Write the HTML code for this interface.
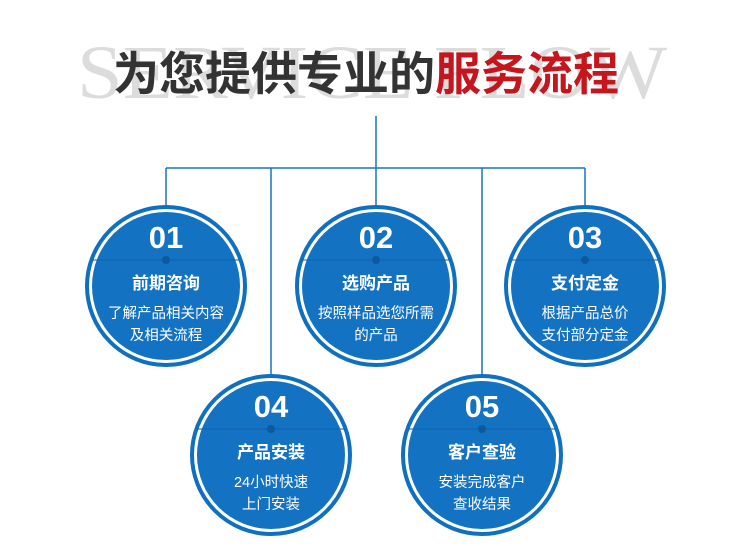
<!DOCTYPE html>
<html><head><meta charset="utf-8"><style>
body{margin:0;background:#fff;}
</style></head><body>
<svg width="750" height="546" viewBox="0 0 750 546" xmlns="http://www.w3.org/2000/svg" style="display:block">
<text x="372" y="98" text-anchor="middle" font-family="Liberation Serif, serif" font-size="76" fill="#dcdcdc" textLength="590" lengthAdjust="spacingAndGlyphs">SERVICE FLOW</text>
<text x="366" y="90" text-anchor="middle" font-family="Liberation Sans, Noto Sans CJK SC, sans-serif" font-weight="bold" font-size="46" fill="#333"><tspan>为您提供专业的</tspan><tspan fill="#c4161c">服务流程</tspan></text>
<g stroke="#1874c6" stroke-width="1.5" fill="none">
<line x1="376" y1="116" x2="376" y2="206"/>
<line x1="166" y1="168" x2="585" y2="168"/>
<line x1="166" y1="168" x2="166" y2="206"/>
<line x1="585" y1="168" x2="585" y2="206"/>
<line x1="271" y1="168" x2="271" y2="375"/>
<line x1="482" y1="168" x2="482" y2="375"/>
</g>
<defs>
<g id="c">
<circle r="79" fill="none" stroke="#0f6fc0" stroke-width="4"/>
<circle r="74" fill="#1472c2"/>
<line x1="-74" y1="-26" x2="74" y2="-26" stroke="#0d63ad" stroke-width="1"/>
<circle cy="-26" r="4" fill="#0c5a9e"/>
</g>
</defs>
<g font-family="Liberation Sans, Noto Sans CJK SC, sans-serif" fill="#fff" text-anchor="middle">
<g transform="translate(166,286)"><use href="#c"/>
<text y="-38" font-size="31" font-weight="bold">01</text>
<text y="3" font-size="17" font-weight="bold">前期咨询</text>
<text y="32" font-size="14.5">了解产品相关内容</text>
<text y="54" font-size="14.5">及相关流程</text></g>
<g transform="translate(376,286)"><use href="#c"/>
<text y="-38" font-size="31" font-weight="bold">02</text>
<text y="3" font-size="17" font-weight="bold">选购产品</text>
<text y="32" font-size="14.5">按照样品选您所需</text>
<text y="54" font-size="14.5">的产品</text></g>
<g transform="translate(585,286)"><use href="#c"/>
<text y="-38" font-size="31" font-weight="bold">03</text>
<text y="3" font-size="17" font-weight="bold">支付定金</text>
<text y="32" font-size="14.5">根据产品总价</text>
<text y="54" font-size="14.5">支付部分定金</text></g>
<g transform="translate(271,455)"><use href="#c"/>
<text y="-38" font-size="31" font-weight="bold">04</text>
<text y="3" font-size="17" font-weight="bold">产品安装</text>
<text y="32" font-size="14.5">24小时快速</text>
<text y="54" font-size="14.5">上门安装</text></g>
<g transform="translate(482,455)"><use href="#c"/>
<text y="-38" font-size="31" font-weight="bold">05</text>
<text y="3" font-size="17" font-weight="bold">客户查验</text>
<text y="32" font-size="14.5">安装完成客户</text>
<text y="54" font-size="14.5">查收结果</text></g>
</g>
</svg>
</body></html>
